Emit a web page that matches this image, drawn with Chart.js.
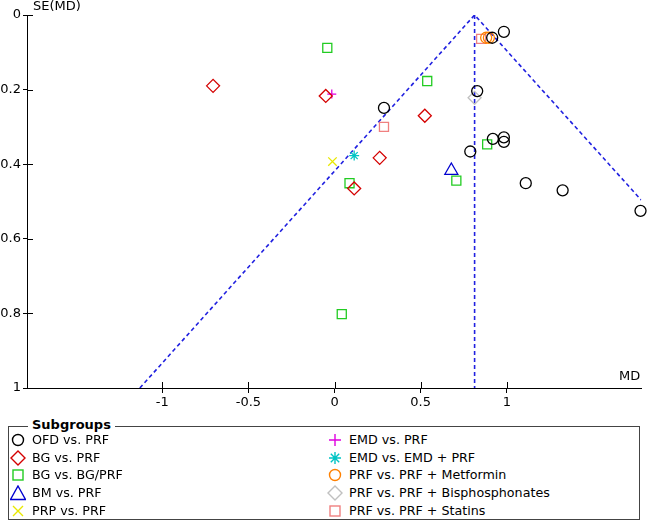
<!DOCTYPE html>
<html>
<head>
<meta charset="utf-8">
<script src="https://cdn.jsdelivr.net/npm/chart.js@4/dist/chart.umd.min.js"></script>
<style>
  body { margin: 0; background: #fff; font-family: "DejaVu Sans", sans-serif; }
  #wrap { position: relative; width: 650px; height: 527px; overflow: hidden; }
  #funnel { position: absolute; left: 0; top: 0; }
  #legendBox { position: absolute; left: 8px; top: 426px; width: 632px; height: 94px;
    border: 1px solid #444; box-sizing: border-box; }
  #legendTitle { position: absolute; left: 28px; top: 417px; padding: 0 4px; background: #fff;
    font-weight: bold; font-size: 13px; line-height: 16px; color: #000; }
  .item { position: absolute; height: 18px; font-size: 12.7px; line-height: 18px; color: #000; white-space: nowrap; }
  .item svg { position: absolute; left: 0; top: 1px; }
  .item span { position: absolute; left: 22px; top: 0; }
</style>
</head>
<body>
<div id="wrap">
  <canvas id="funnel" width="650" height="420"></canvas>
  <div id="legendBox"></div>
  <div id="legendTitle">Subgroups</div>
  <div id="legend"></div>
</div>
<script>
// study points (MD, SE)
const ofdX = [0.983, 0.915, 0.828, 0.287, 0.919, 0.983, 0.983, 0.788, 1.110, 1.324, 1.776];
const ofdY = [0.045, 0.061, 0.204, 0.249, 0.332, 0.328, 0.340, 0.366, 0.451, 0.470, 0.525];
const bgPrfX = [-0.705, -0.051, 0.524, 0.262, 0.114];
const bgPrfY = [0.190, 0.217, 0.270, 0.383, 0.465];
const bgBgX = [-0.042, 0.538, 0.886, 0.087, 0.707, 0.042];
const bgBgY = [0.088, 0.177, 0.347, 0.451, 0.444, 0.802];
const bmX = [0.678];
const bmY = [0.417];
const prpX = [-0.012];
const prpY = [0.393];
const emdX = [-0.016];
const emdY = [0.212];
const emdPrfX = [0.114];
const emdPrfY = [0.377];
const metX = [0.880, 0.896];
const metY = [0.061, 0.061];
const bisX = [0.813];
const bisY = [0.222];
const statX = [0.851, 0.287];
const statY = [0.064, 0.300];

// funnel outline and pooled MD
const funnelX = [-1.13, 0.813, 1.78];
const funnelY = [1, 0, 0.496];
const pooledX = [0.813, 0.813];
const pooledY = [0, 1];

const xTicks = [-1, -0.5, 0, 0.5, 1];
const yTicks = [0, 0.2, 0.4, 0.6, 0.8, 1];

const subgroups = [
  { label: 'OFD vs. PRF', xs: ofdX, ys: ofdY, color: '#000000', style: 'circle', r: 5.5 },
  { label: 'BG vs. PRF', xs: bgPrfX, ys: bgPrfY, color: '#d40000', style: 'rectRot', r: 6.5 },
  { label: 'BG vs. BG/PRF', xs: bgBgX, ys: bgBgY, color: '#22cc22', style: 'rect', r: 6.4 },
  { label: 'BM vs. PRF', xs: bmX, ys: bmY, color: '#0000d0', style: 'triangle', r: 7.5 },
  { label: 'PRP vs. PRF', xs: prpX, ys: prpY, color: '#e8e800', style: 'crossRot', r: 6 },
  { label: 'EMD vs. PRF', xs: emdX, ys: emdY, color: '#e000e0', style: 'cross', r: 4.5 },
  { label: 'EMD vs. EMD + PRF', xs: emdPrfX, ys: emdPrfY, color: '#00c4c4', style: 'star', r: 5 },
  { label: 'PRF vs. PRF + Metformin', xs: metX, ys: metY, color: '#ff8000', style: 'circle', r: 5.5 },
  { label: 'PRF vs. PRF + Bisphosphonates', xs: bisX, ys: bisY, color: '#c0c0c0', style: 'rectRot', r: 6.5 },
  { label: 'PRF vs. PRF + Statins', xs: statX, ys: statY, color: '#f08080', style: 'rect', r: 6.4 }
];

const toPts = (xs, ys) => xs.map((x, i) => ({ x, y: ys[i] }));
const FONT = '"DejaVu Sans", sans-serif';

const datasets = subgroups.map((g) => ({
  type: 'scatter',
  label: g.label,
  data: toPts(g.xs, g.ys),
  pointStyle: g.style,
  pointRadius: g.r,
  pointBorderColor: g.color,
  pointBackgroundColor: 'rgba(0,0,0,0)',
  pointBorderWidth: 1.3,
  clip: false
}));

datasets.push({
  type: 'line',
  label: 'funnel',
  data: toPts(funnelX, funnelY),
  borderColor: '#2020e0',
  borderWidth: 1.6,
  borderDash: [4, 3],
  pointRadius: 0,
  fill: false
});
datasets.push({
  type: 'line',
  label: 'pooled',
  data: toPts(pooledX, pooledY),
  borderColor: '#2020e0',
  borderWidth: 1.6,
  borderDash: [4, 3],
  pointRadius: 0,
  fill: false
});

// ticks that cross the axis line, plus the two axis titles
const axisExtras = {
  id: 'axisExtras',
  afterDraw(chart) {
    const { ctx, chartArea, scales } = chart;
    ctx.save();
    ctx.strokeStyle = '#000';
    ctx.lineWidth = 1;
    ctx.beginPath();
    xTicks.forEach((v) => {
      const px = Math.round(scales.x.getPixelForValue(v)) + 0.5;
      ctx.moveTo(px, chartArea.bottom);
      ctx.lineTo(px, chartArea.bottom - 6);
    });
    yTicks.forEach((v) => {
      const py = Math.round(scales.y.getPixelForValue(v)) + 0.5;
      ctx.moveTo(chartArea.left, py);
      ctx.lineTo(chartArea.left + 6, py);
    });
    ctx.stroke();
    ctx.fillStyle = '#000';
    ctx.font = '13px ' + FONT;
    ctx.textBaseline = 'middle';
    ctx.textAlign = 'left';
    ctx.fillText('SE(MD)', chartArea.left + 6, 7);
    ctx.textAlign = 'right';
    ctx.fillText('MD', chartArea.right - 1, chartArea.bottom - 11);
    ctx.restore();
  }
};

new Chart(document.getElementById('funnel'), {
  type: 'scatter',
  data: { datasets },
  options: {
    responsive: false,
    animation: false,
    events: [],
    layout: { padding: { top: 15, right: 6, left: 0, bottom: 0 } },
    plugins: { legend: { display: false }, tooltip: { enabled: false } },
    scales: {
      x: {
        type: 'linear',
        min: -1.785,
        max: 1.78,
        afterBuildTicks: (s) => { s.ticks = xTicks.map((v) => ({ value: v })); },
        afterFit: (s) => { s.height = 32; },
        grid: { drawOnChartArea: false, drawTicks: true, tickLength: 5, color: '#000' },
        border: { color: '#000', width: 1 },
        ticks: { color: '#000', font: { family: FONT, size: 13 }, padding: 2, maxRotation: 0,
          callback: (v) => String(v) }
      },
      y: {
        type: 'linear',
        reverse: true,
        min: 0,
        max: 1,
        afterBuildTicks: (s) => { s.ticks = yTicks.map((v) => ({ value: v })); },
        afterFit: (s) => { s.width = 27; },
        grid: { drawOnChartArea: false, drawTicks: true, tickLength: 4, color: '#000' },
        border: { color: '#000', width: 1 },
        ticks: { color: '#000', font: { family: FONT, size: 13 }, padding: 2,
          callback: (v) => String(v) }
      }
    }
  },
  plugins: [axisExtras]
});

// legend markers as small svg glyphs
function glyph(style, color) {
  const s = 'fill="none" stroke="' + color + '" stroke-width="1.4"';
  let shape = '';
  if (style === 'circle') shape = '<circle cx="8" cy="8" r="5.5" ' + s + '/>';
  if (style === 'rectRot') shape = '<polygon points="8,1 15,8 8,15 1,8" ' + s + '/>';
  if (style === 'rect') shape = '<rect x="3" y="3" width="10" height="10" ' + s + '/>';
  if (style === 'triangle') shape = '<polygon points="8,1 15.5,14.5 0.5,14.5" ' + s + '/>';
  if (style === 'crossRot') shape = '<path d="M3,3 L13,13 M13,3 L3,13" ' + s + '/>';
  if (style === 'cross') shape = '<path d="M8,2 L8,14 M2,8 L14,8" ' + s + '/>';
  if (style === 'star') shape = '<path d="M8,2 L8,14 M2,8 L14,8 M3.8,3.8 L12.2,12.2 M12.2,3.8 L3.8,12.2" ' + s + '/>';
  return '<svg width="16" height="16" viewBox="0 0 16 16">' + shape + '</svg>';
}

const legendEl = document.getElementById('legend');
subgroups.forEach((g, i) => {
  const col = i < 5 ? 0 : 1;
  const row = i % 5;
  const div = document.createElement('div');
  div.className = 'item';
  div.style.left = (col === 0 ? 10 : 327) + 'px';
  div.style.top = (431 + row * 17.7) + 'px';
  div.innerHTML = glyph(g.style, g.color) + '<span>' + g.label + '</span>';
  legendEl.appendChild(div);
});
</script>
</body>
</html>
